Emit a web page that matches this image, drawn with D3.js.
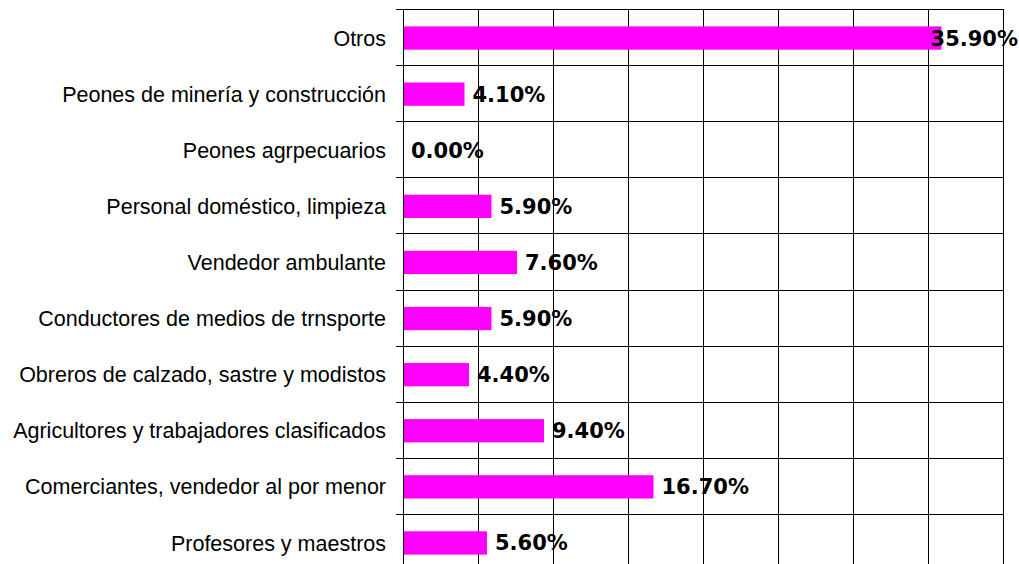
<!DOCTYPE html>
<html>
<head>
<meta charset="utf-8">
<script src="https://cdn.jsdelivr.net/npm/d3@7"></script>
<style>
  body { margin: 0; background: #fff; }
  svg { display: block; }
</style>
</head>
<body>
<svg id="chart" width="1019" height="564"></svg>
<script>
const categories = [
    "Otros",
    "Peones de minería y construcción",
    "Peones agrpecuarios",
    "Personal doméstico, limpieza",
    "Vendedor ambulante",
    "Conductores de medios de trnsporte",
    "Obreros de calzado, sastre y modistos",
    "Agricultores y trabajadores clasificados",
    "Comerciantes, vendedor al por menor",
    "Profesores y maestros"
];
const values = [35.9, 4.1, 0.0, 5.9, 7.6, 5.9, 4.4, 9.4, 16.7, 5.6];
const xTicks = [0, 5, 10, 15, 20, 25, 30, 35, 40];

const chartW = 1019,
    plotLeft = 403,
    plotRight = 1003,
    plotTop = 9,
    rowH = 56.1;

const data = categories.map((c, i) => ({ name: c, value: values[i] }));

const svg = d3.select('#chart');

const x = d3.scaleLinear().domain([0, 40]).range([plotLeft, plotRight]);
const y = d3.scaleBand()
    .domain(categories)
    .range([plotTop, plotTop + rowH * categories.length])
    .padding(0);

const plotBottom = plotTop + rowH * categories.length;

// vertical grid lines
svg.append('g')
    .attr('transform', 'translate(0,' + plotTop + ')')
    .call(d3.axisBottom(x).tickValues(xTicks).tickSize(plotBottom - plotTop).tickFormat(''))
    .call(g => g.select('.domain').remove())
    .call(g => g.selectAll('line').attr('stroke', '#000'));

// horizontal lines at category boundaries
const bounds = categories.map(c => y(c)).concat([plotBottom]);
svg.append('g').selectAll('line')
    .data(bounds)
    .join('line')
    .attr('x1', plotLeft - 7)
    .attr('x2', plotRight + 0.5)
    .attr('y1', d => Math.round(d) + 0.5)
    .attr('y2', d => Math.round(d) + 0.5)
    .attr('stroke', '#000');

// bars
const barH = 23.3;
svg.append('g').selectAll('rect')
    .data(data)
    .join('rect')
    .attr('x', x(0))
    .attr('y', d => y(d.name) + (y.bandwidth() - barH) / 2 + 1)
    .attr('width', d => x(d.value) - x(0))
    .attr('height', barH)
    .attr('fill', '#ff00ff');

// category labels
svg.append('g')
    .attr('transform', 'translate(' + plotLeft + ',0)')
    .call(d3.axisLeft(y).tickSize(0).tickPadding(17))
    .call(g => g.select('.domain').remove())
    .call(g => g.selectAll('text')
        .attr('font-family', '"Liberation Sans", Arial, sans-serif')
        .attr('font-size', 21.5)
        .attr('fill', '#000')
        .attr('dy', '0.4em'));

// value labels
svg.append('g').selectAll('text')
    .data(data)
    .join('text')
    .attr('font-family', '"DejaVu Sans", Verdana, sans-serif')
    .attr('font-weight', 'bold')
    .attr('font-size', 21)
    .attr('fill', '#000')
    .attr('y', d => y(d.name) + y.bandwidth() / 2 + 8.5)
    .text(d => d.value.toFixed(2) + '%')
    .attr('x', function(d) {
        const w = this.getComputedTextLength();
        return Math.min(x(d.value) + 8, chartW - w - 1);
    });

// left axis line
svg.append('line')
    .attr('x1', plotLeft + 0.5).attr('x2', plotLeft + 0.5)
    .attr('y1', plotTop).attr('y2', plotBottom)
    .attr('stroke', '#000');
</script>
</body>
</html>
